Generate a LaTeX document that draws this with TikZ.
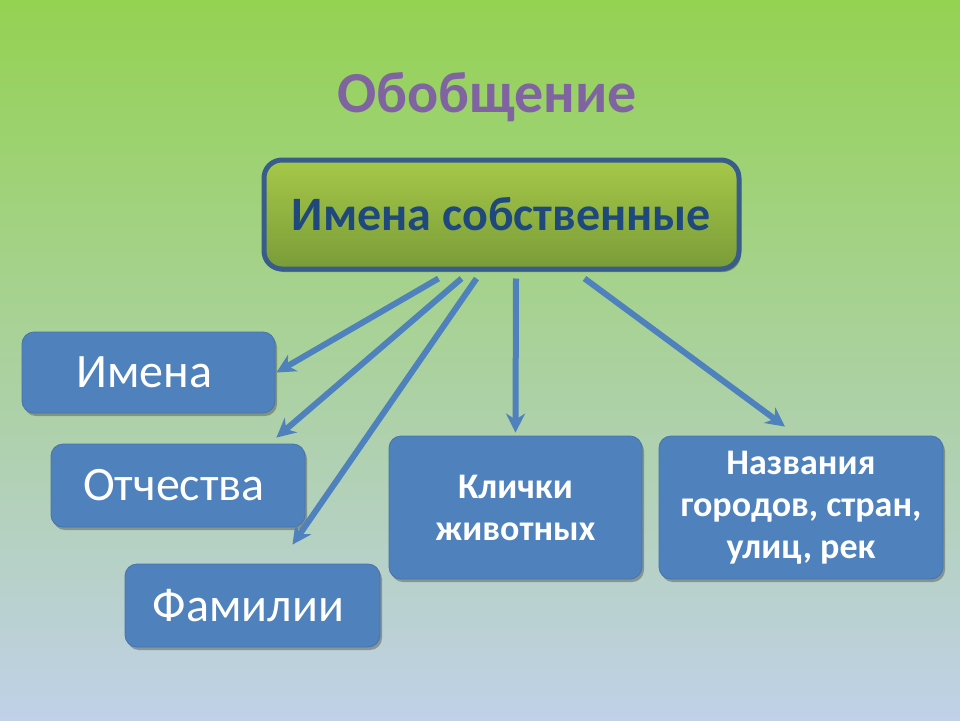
\documentclass[tikz,border=0pt]{standalone}
\usepackage{fontspec}
\setmainfont{Carlito}
\usetikzlibrary{arrows.meta,shadows}
\definecolor{bgtop}{RGB}{148,210,82}
\definecolor{bgbot}{RGB}{192,209,232}
\definecolor{boxblue}{RGB}{79,129,189}
\definecolor{rimblue}{RGB}{56,93,138}
\definecolor{textblue}{RGB}{31,73,125}
\definecolor{greentop}{RGB}{166,200,72}
\definecolor{greenbot}{RGB}{122,156,56}
\definecolor{titlepurple}{RGB}{128,100,162}
\begin{document}
\begin{tikzpicture}[x=1pt,y=-1pt,
		blubox/.style={fill=boxblue, draw=boxblue!90!black, line width=.8pt, rounded corners=12pt,
			inner sep=0pt, text=white, align=center,
			drop shadow={shadow xshift=2pt, shadow yshift=-3pt, opacity=.45, fill=black!70}},
		plainlbl/.style={font=\fontsize{48}{52}\selectfont},
		boldlbl/.style={font=\bfseries\fontsize{36}{42}\selectfont},
		fanarrow/.style={draw=boxblue, line width=6pt, -{Stealth[length=19pt,width=19pt,inset=6pt]}}]
		\shade [top color=bgtop, bottom color=bgbot] (0,0) rectangle (960,720);
		\node (title) at (487,97) [text=titlepurple, font=\bfseries\fontsize{58}{62}\selectfont] {Обобщение};
		
		\node (top) at (501.5,214.5) [top color=greentop, bottom color=greenbot, draw=rimblue, line width=5pt,
			rounded corners=18pt, minimum width=475pt, minimum height=109pt,
			drop shadow={shadow xshift=2pt, shadow yshift=-3pt, opacity=.5, fill=black!70},
			text=textblue, font=\bfseries\fontsize{48}{52}\selectfont] {Имена собственные};
		
		\node (imena) at (148.5,372.5) [blubox, plainlbl, minimum width=253pt, minimum height=81pt] {Имена\hspace*{8pt}};
		\node (otch) at (178,485.5) [blubox, plainlbl, minimum width=254pt, minimum height=83pt] {Отчества\hspace*{8pt}};
		\node (fam) at (252.5,605.5) [blubox, plainlbl, minimum width=255pt, minimum height=83pt] {Фамилии\hspace*{8pt}};
		\node (klich) at (515.5,507.5) [blubox, boldlbl, minimum width=253pt, minimum height=143pt] {Клички\\животных};
		\node (nazv) at (801,507.5) [blubox, boldlbl, minimum width=284pt, minimum height=143pt] {Названия\\городов, стран,\\улиц, рек};
		
		% arrows fan out from under the top box
		\draw [fanarrow] ([xshift=-63pt,yshift=-7pt]top.south) -- ([xshift=1pt]imena.east);
		\draw [fanarrow] ([xshift=-40pt,yshift=-7pt]top.south) -- ([xshift=-29pt,yshift=6pt]otch.north east);
		\draw [fanarrow] ([xshift=-25pt,yshift=-7pt]top.south) -- ([xshift=40pt,yshift=19pt]fam.north);
		\draw [fanarrow] ([xshift=14.5pt,yshift=-7pt]top.south) -- ([yshift=3pt]klich.north);
		\draw [fanarrow] ([xshift=83pt,yshift=-7pt]top.south) -- ([xshift=-16pt,yshift=9pt]nazv.north);
\end{tikzpicture}
\end{document}
